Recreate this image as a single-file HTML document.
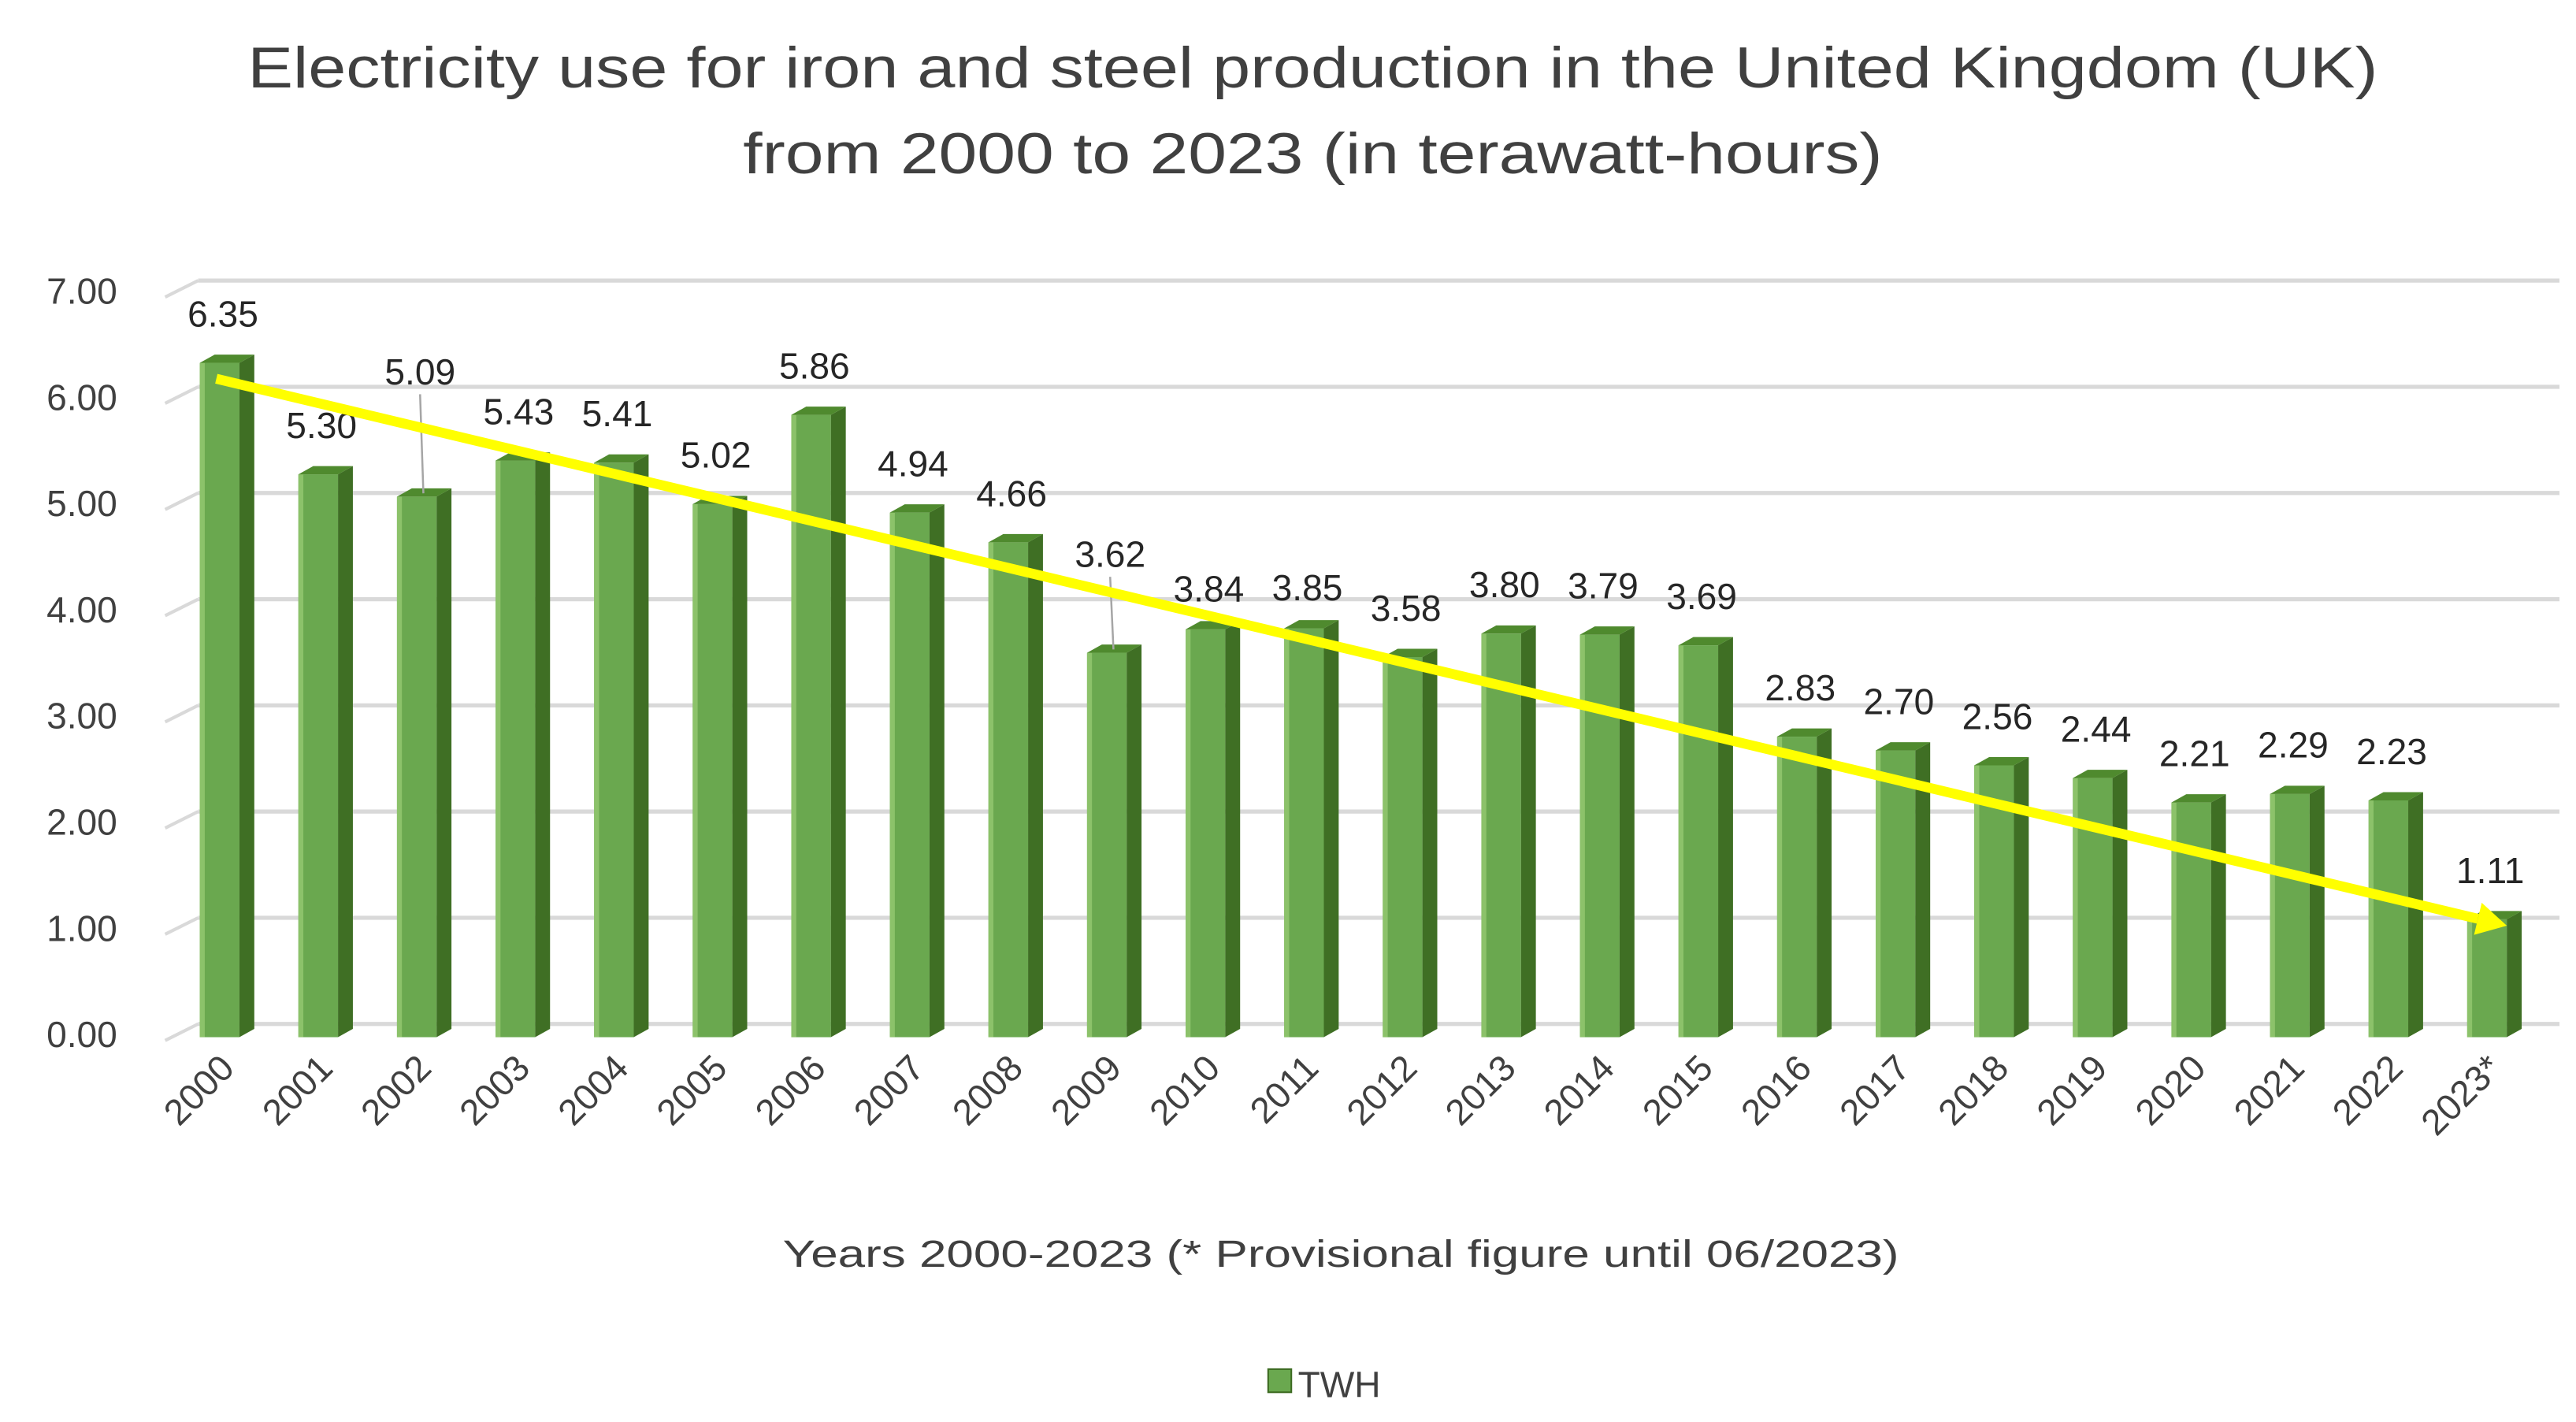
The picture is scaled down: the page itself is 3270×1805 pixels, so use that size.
<!DOCTYPE html>
<html><head><meta charset="utf-8">
<style>
html,body{margin:0;padding:0;background:#fff;}
svg{display:block;}
text{font-family:"Liberation Sans",sans-serif;}
</style></head>
<body>
<svg id="chart" width="3270" height="1805" viewBox="0 0 1560 861" preserveAspectRatio="none" xmlns="http://www.w3.org/2000/svg">
  <text x="795" y="53" font-size="35" text-anchor="middle" fill="#404040" textLength="1290" lengthAdjust="spacingAndGlyphs">Electricity use for iron and steel production in the United Kingdom (UK)</text>
  <text x="795" y="105" font-size="35" text-anchor="middle" fill="#404040" textLength="690" lengthAdjust="spacingAndGlyphs">from 2000 to 2023 (in terawatt-hours)</text>
  <g id="grid"></g>
  <g id="bars"></g>
  <g id="labels"></g>
  <g id="trend"></g>
  <text x="812" y="767" font-size="23" text-anchor="middle" fill="#404040" textLength="676" lengthAdjust="spacingAndGlyphs">Years 2000-2023 (* Provisional figure until 06/2023)</text>
  <g>
    <rect x="768" y="829" width="14" height="14" fill="#6aa84f" stroke="#3d6b22" stroke-width="1"/>
    <text x="786" y="846" font-size="22" fill="#404040">TWH</text>
  </g>
</svg>
<script>
const categories = ["2000","2001","2002","2003","2004","2005","2006","2007","2008","2009","2010","2011","2012","2013","2014","2015","2016","2017","2018","2019","2020","2021","2022","2023*"];
const values = [6.35,5.30,5.09,5.43,5.41,5.02,5.86,4.94,4.66,3.62,3.84,3.85,3.58,3.80,3.79,3.69,2.83,2.70,2.56,2.44,2.21,2.29,2.23,1.11];
const yTicks = [0,1,2,3,4,5,6,7];
const yTickLabels = ["0.00","1.00","2.00","3.00","4.00","5.00","6.00","7.00"];
const trendStart = 6.2;
const trendEnd = 1.05;

const NS = "http://www.w3.org/2000/svg";
const y0 = 628, pxPerUnit = 64.3;
const x0 = 137, step = 59.7;
function yScale(v){ return y0 - v*pxPerUnit; }
function xScale(i){ return x0 + i*step; }
function mk(tag, attrs, parent){
  const e = document.createElementNS(NS, tag);
  for (const k in attrs) e.setAttribute(k, attrs[k]);
  parent.appendChild(e);
  return e;
}
const grid = document.getElementById('grid');
yTicks.forEach((t,i)=>{
  const y = yScale(t);
  const g = mk('g',{},grid);
  
  
  mk('line',{x1:100,y1:y+2,x2:120,y2:y-8,stroke:'#d9d9d9','stroke-width':2},g);
  mk('line',{x1:120,y1:y-8,x2:1550,y2:y-8,stroke:'#d9d9d9','stroke-width':2.5},g);
  const lbl = mk('text',{x:71,y:y+6,'font-size':22,'text-anchor':'end',fill:'#404040'},grid);
  
  
  lbl.textContent = yTickLabels[i];
});
const bars = document.getElementById('bars');
const labels = document.getElementById('labels');
const labelShift = {2:-46, 9:-30, 10:5, 11:5};
values.forEach((v,i)=>{
  const cx = xScale(i);
  const top = yScale(v);
  const g = mk('g',{},bars);
  
  
  const fx = cx-16, fw = 24, dw = 9, dh = 5;
  mk('rect',{x:fx,y:top,width:fw,height:y0-top,fill:'#6aa84f'},g);
  mk('rect',{x:fx,y:top,width:3,height:y0-top,fill:'#8cc26a'},g);
  mk('polygon',{points:`${fx+fw},${top} ${fx+fw+dw},${top-dh} ${fx+fw+dw},${y0-dh} ${fx+fw},${y0}`,fill:'#3f6f24'},g);
  mk('polygon',{points:`${fx},${top} ${fx+dw},${top-dh} ${fx+fw+dw},${top-dh} ${fx+fw},${top}`,fill:'#4f8a2e'},g);
  const shift = labelShift[i] || 0;
  const ly = top - 22 + shift;
  if (shift < -20){
    const ll = mk('line',{x1:cx-2,y1:ly+6,x2:cx,y2:top-2,stroke:'#a6a6a6','stroke-width':1.2},labels);
    
    
  }
  const t = mk('text',{x:cx-2,y:ly,'font-size':22,'text-anchor':'middle',fill:'#262626'},labels);
  
  
  t.textContent = v.toFixed(2);
  const xl = mk('text',{x:0,y:0,'font-size':22,'text-anchor':'end',fill:'#404040',transform:`translate(${cx+6},${y0+20}) rotate(-45)`},labels);
  
  
  xl.textContent = categories[i];
});
const trend = document.getElementById('trend');
const tx1 = xScale(0)-6, ty1 = yScale(trendStart);
const tx2 = xScale(values.length-1)+8, ty2 = yScale(trendEnd);
const ang = Math.atan2(ty2-ty1, tx2-tx1);
const hl = 18, hw = 10;
const bx = tx2 - hl*Math.cos(ang), by = ty2 - hl*Math.sin(ang);
const tl = mk('line',{x1:tx1,y1:ty1,x2:bx,y2:by,stroke:'#ffff00','stroke-width':6},trend);


const px = -Math.sin(ang), py = Math.cos(ang);
const ah = mk('polygon',{points:`${tx2},${ty2} ${bx+px*hw},${by+py*hw} ${bx-px*hw},${by-py*hw}`,fill:'#ffff00'},trend);


</script>
</body></html>
